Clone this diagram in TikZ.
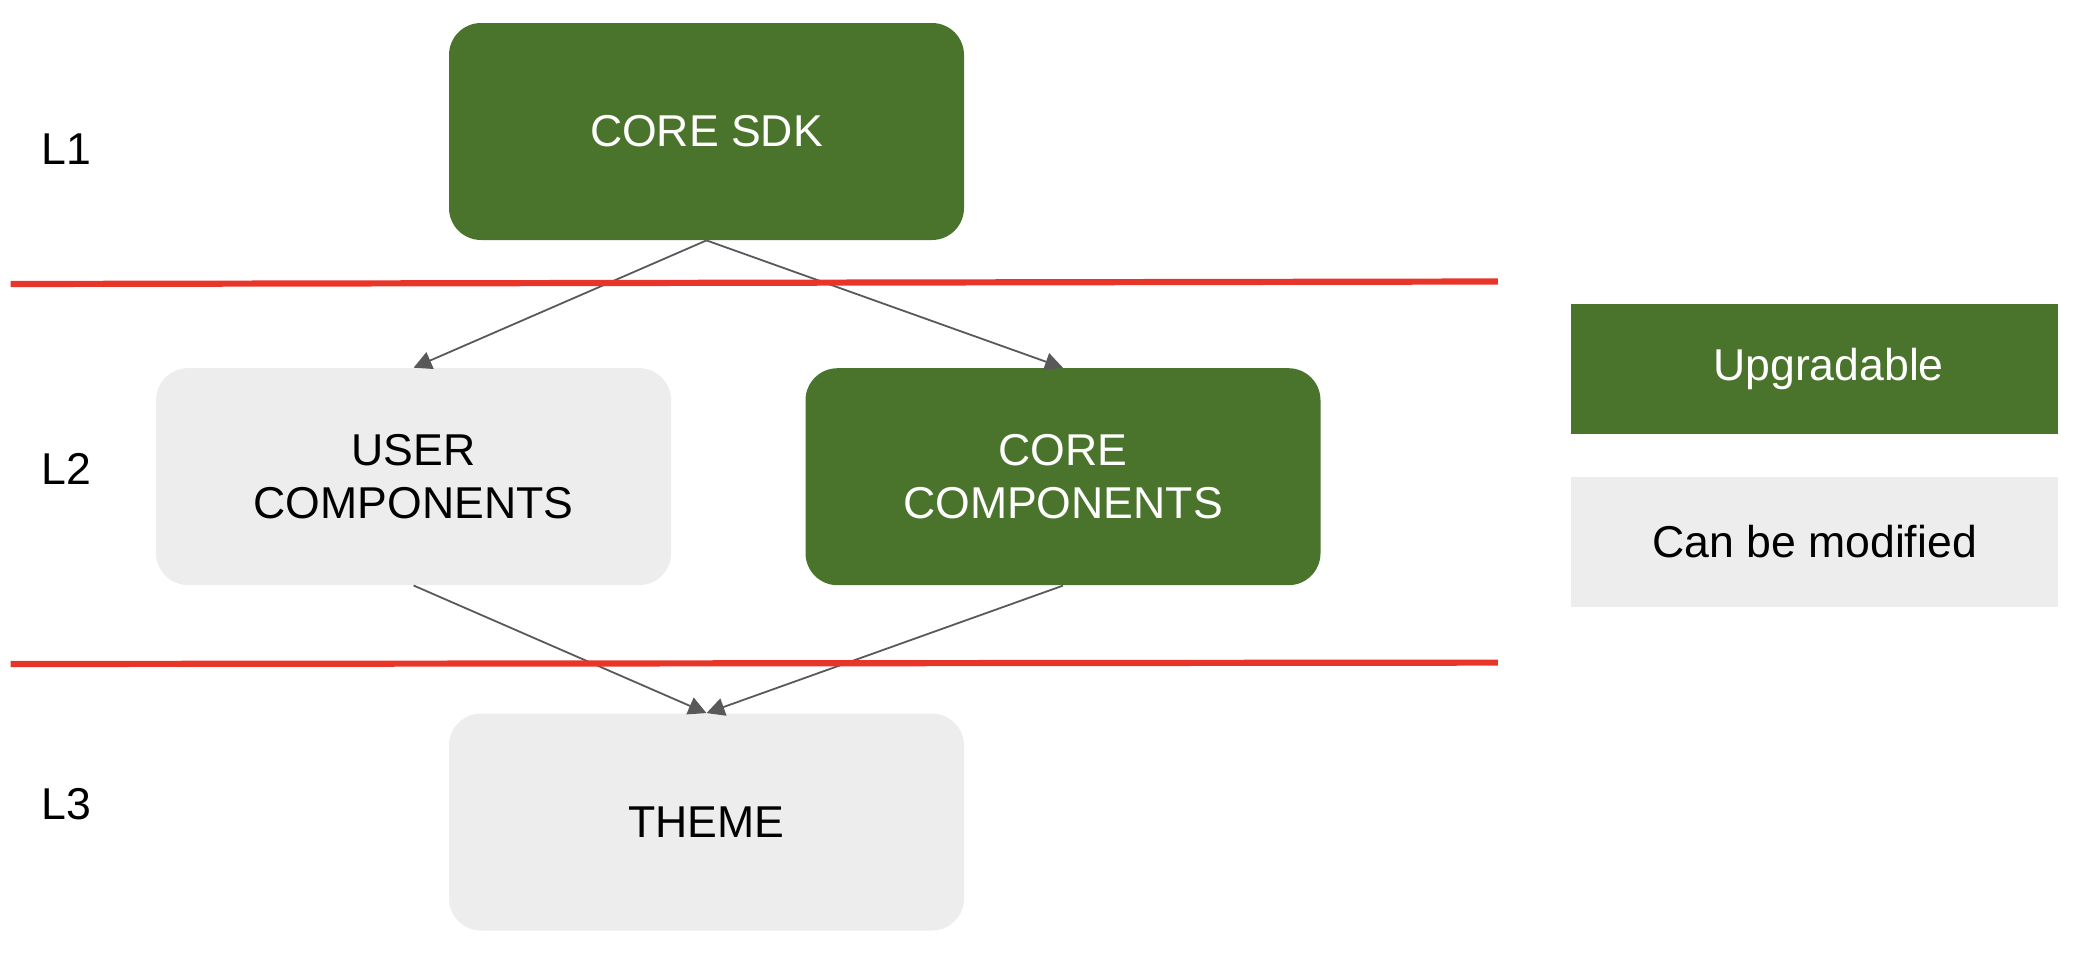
\documentclass[tikz,border=0pt]{standalone}
\usepackage{fontspec}
\setmainfont{Liberation Sans}
\usetikzlibrary{arrows.meta,calc}
\definecolor{upgreen}{HTML}{4A742C}
\definecolor{modgray}{HTML}{EDEDED}
\definecolor{linered}{HTML}{E8352A}
\definecolor{arrowgray}{HTML}{595959}
\tikzset{
  txt/.style={font=\fontsize{22.3pt}{26.5pt}\selectfont, align=center},
  boxgreen/.style={txt, fill=upgreen, text=white, rounded corners=16pt, minimum width=257.5pt, minimum height=108.5pt, inner sep=0pt},
  boxgray/.style={txt, fill=modgray, text=black, rounded corners=16pt, minimum width=257.5pt, minimum height=108.5pt, inner sep=0pt},
  leggreen/.style={txt, fill=upgreen, text=white, minimum width=243.5pt, minimum height=65pt, inner sep=0pt},
  leggray/.style={txt, fill=modgray, text=black, minimum width=243.5pt, minimum height=65pt, inner sep=0pt},
  levellabel/.style={txt, anchor=west, inner sep=0pt},
  conn/.style={draw=arrowgray, line width=0.9pt, -{Triangle[length=9pt,width=9pt]}, arrowgray},
  divider/.style={draw=linered, line width=3.1pt}
}
\begin{document}
\begin{tikzpicture}[x=0.5pt,y=-0.5pt]
\useasboundingbox (0,0) rectangle (2082,964);
% boxes
\node[boxgreen] (sdk) at (706.5,131.5) {CORE SDK};
\node[boxgray] (user) at (413.6,476.6) {USER\\COMPONENTS};
\node[boxgreen] (corecomp) at (1063,476.7) {CORE\\COMPONENTS};
\node[boxgray] (theme) at (706.5,822) {THEME};
% level labels
\node[levellabel] (l1) at (41,148.7) {L1};
\node[levellabel] (l2) at (41,468.7) {L2};
\node[levellabel] (l3) at (41,804.6) {L3};
% legend
\node[leggreen] (legup) at (1814.5,369) {\hspace*{14pt}Upgradable};
\node[leggray] (legmod) at (1814.5,541.7) {Can be modified};
% connectors
\draw[conn] (sdk.south) -- (user.north);
\draw[conn] (sdk.south) -- (corecomp.north);
\draw[conn] (user.south) -- (theme.north);
\draw[conn] (corecomp.south) -- (theme.north);
% dividers
\draw[divider] (10.6,284) -- (1497.8,281.5);
\draw[divider] (10.6,664) -- (1497.8,662.6);
\end{tikzpicture}
\end{document}
